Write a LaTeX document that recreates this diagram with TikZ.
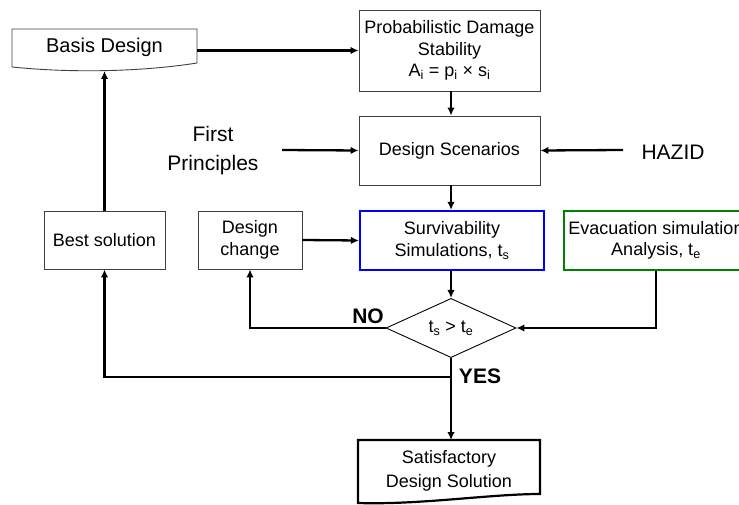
\documentclass[tikz,border=0pt]{standalone}
\usepackage{fontspec}
\setmainfont{Liberation Sans}
\usetikzlibrary{arrows.meta,shapes.geometric}

\tikzset{
  box/.style={draw=black!75, line width=0.9pt, rectangle, inner sep=2pt,
    align=center, font=\fontsize{18}{21.5}\selectfont},
  simbox/.style={box, line width=2.2pt},
  arr/.style={line width=2.3pt, -{Latex[length=8pt,width=7.5pt]}},
  bigtext/.style={align=center, font=\fontsize{21}{29}\selectfont},
  verdict/.style={font=\fontsize{21}{24}\selectfont\bfseries},
}

\begin{document}
\begin{tikzpicture}[x=1pt,y=-1pt]
\useasboundingbox (0,0) rectangle (739,505);

% document-shaped start box
\draw[black!75, line width=0.9pt, fill=white]
  (12,29) -- (197,29) -- (197,63) .. controls (140,72) and (70,73) .. (12,67) -- cycle;
\node[font=\fontsize{20}{24}\selectfont, minimum width=185pt, minimum height=34pt, inner sep=0pt]
  (basis) at (104.5,47) {Basis Design};
\coordinate (basisfoot) at (104.5,71);

% process boxes
\node[box, minimum width=181pt, minimum height=81pt] (prob) at (449.5,50.5)
  {Probabilistic Damage\\Stability\\A\textsubscript{i} = p\textsubscript{i} \texttimes{} s\textsubscript{i}};
\node[box, minimum width=181pt, minimum height=69pt] (scen) at (449.5,150.5) {Design Scenarios};
\node[simbox, draw=blue, minimum width=184pt, minimum height=59pt] (surv) at (452,240.5)
  {Survivability\\Simulations, t\textsubscript{s}};
\node[simbox, draw=black!50!green, minimum width=184pt, minimum height=59pt] (evac) at (656,240.5)
  {Evacuation simulation\\Analysis, t\textsubscript{e}};
\node[box, minimum width=121pt, minimum height=58pt] (best) at (104.5,240) {Best solution};
\node[box, minimum width=104pt, minimum height=58pt] (dchange) at (250,240) {Design\\change};

% decision
\node[draw=black, line width=0.9pt, diamond, minimum width=130pt, minimum height=53pt,
  inner sep=0pt, font=\fontsize{18}{21}\selectfont] (dia) at (451,328)
  {t\textsubscript{s} > t\textsubscript{e}};

% outside inputs
\node[bigtext] (fp) at (213,151) {First\\Principles};
\coordinate (fpout) at (282,150);
\node[bigtext] (hazid) at (673,152) {HAZID};
\coordinate (hazidout) at (623,150);

% end box
\draw[black, line width=2.2pt, fill=white]
  (358,440) -- (540,440) -- (540,494) .. controls (490,494) and (420,505) .. (358,503) -- cycle;
\node[align=center, font=\fontsize{18}{24}\selectfont] (sat) at (449,471)
  {Satisfactory\\Design Solution};
\coordinate (sattop) at (451,440);
\coordinate (yesj) at (451,377);

% connectors
\draw[arr] (basis.east |- prob) -- (prob.west);
\draw[arr] (prob.south -| dia.north) -- (scen.north -| dia.north);
\draw[arr] (fpout) -- (scen.west);
\draw[arr] (hazidout) -- (scen.east);
\draw[arr] (scen.south -| dia.north) -- (surv.north -| dia.north);
\draw[arr] (dchange.east) -- (surv.west);
\draw[arr] (surv.south -| dia.north) -- (dia.north);
\draw[arr] (evac.south) |- (dia.east);
\draw[arr] (dia.west) -| (dchange.south);
\draw[arr] (dia.south) -- (sattop);
\draw[arr] (yesj) -| (best.south);
\draw[arr] (best.north) -- (basisfoot);

% branch labels
\node[verdict] (no) at (368,316) {NO};
\node[verdict] (yes) at (480,376) {YES};
\end{tikzpicture}
\end{document}
